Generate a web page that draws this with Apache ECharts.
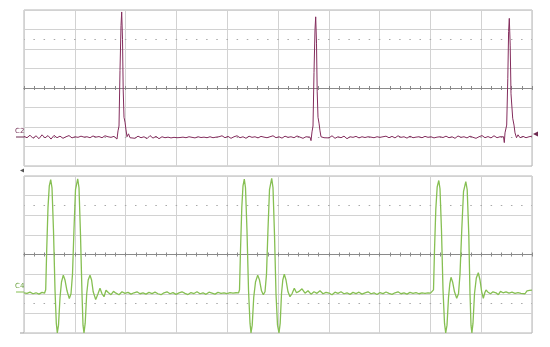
<!DOCTYPE html>
<html>
<head>
<meta charset="utf-8">
<script src="https://cdn.jsdelivr.net/npm/echarts@6/dist/echarts.min.js"></script>
<style>
	html, body { margin: 0; padding: 0; background: #fff; }
	#chart { width: 550px; height: 347px; }
</style>
</head>
<body>
<div id="chart"></div>
<script>
// x in screen divisions * 50.8 (10 divisions across), y in vertical divisions from centre
const c2Trace = [
	[0, -2.48], [3, -2.55], [6, -2.42], [9, -2.58], [12, -2.45], [15, -2.6], [18, -2.4], [21, -2.56],
	[24, -2.44], [27, -2.62], [30, -2.43], [33, -2.55], [36, -2.47], [39, -2.58], [42, -2.5], [45, -2.44],
	[48, -2.56], [51, -2.5], [54, -2.53], [57, -2.47], [60, -2.52], [63, -2.5], [66, -2.55], [69, -2.46],
	[72, -2.52], [75, -2.49], [78, -2.55], [81, -2.45], [84, -2.5], [87, -2.53], [90, -2.48],
	[92, -2.5], [93, -2.62], [94, -2.2], [95, -1.95], [96, 0.9], [97, 3.2], [97.7, 3.9], [98.5, 2.5],
	[99.2, -0.1], [100, -1.5], [101, -1.75], [102, -2.15], [103, -2.5], [104.5, -2.35], [106, -2.55],
	[108, -2.45], [111, -2.58], [114, -2.47], [117, -2.55], [120, -2.5], [123, -2.6], [126, -2.44], [129, -2.57],
	[132, -2.48], [135, -2.6], [138, -2.5], [141, -2.55], [144, -2.52], [147, -2.56], [150, -2.53], [153, -2.55],
	[156, -2.54], [159, -2.52], [162, -2.55], [165, -2.5], [168, -2.53], [171, -2.56], [174, -2.5], [177, -2.54],
	[180, -2.52], [183, -2.55], [186, -2.5], [189, -2.55], [192, -2.52], [195, -2.5], [198, -2.45], [201, -2.55],
	[204, -2.48], [207, -2.58], [210, -2.5], [213, -2.45], [216, -2.55], [219, -2.5], [222, -2.58], [225, -2.47],
	[228, -2.53], [231, -2.5], [234, -2.56], [237, -2.48], [240, -2.52], [243, -2.55], [246, -2.5], [249, -2.45],
	[252, -2.55], [255, -2.5], [258, -2.57], [261, -2.47], [264, -2.53], [267, -2.5], [270, -2.55], [273, -2.46],
	[276, -2.52], [279, -2.58], [282, -2.5],
	[286, -2.52], [287, -2.7], [288, -2.25], [289, -1.95], [290, 0.8], [291, 3.0], [291.7, 3.65], [292.5, 2.3],
	[293.2, -0.2], [294, -1.5], [295, -1.8], [296, -2.2], [297, -2.5], [298.5, -2.4], [300, -2.55],
	[302, -2.48], [305, -2.56], [308, -2.45], [311, -2.58], [314, -2.5], [317, -2.55], [320, -2.47], [323, -2.6],
	[326, -2.5], [329, -2.53], [332, -2.48], [335, -2.56], [338, -2.5], [341, -2.54], [344, -2.5], [347, -2.52],
	[350, -2.55], [353, -2.5], [356, -2.53], [359, -2.5], [362, -2.47], [365, -2.55], [368, -2.48], [371, -2.56],
	[374, -2.45], [377, -2.53], [380, -2.5], [383, -2.57], [386, -2.47], [389, -2.55], [392, -2.52], [395, -2.5],
	[398, -2.55], [401, -2.48], [404, -2.53], [407, -2.5], [410, -2.56], [413, -2.52], [416, -2.5], [419, -2.54],
	[422, -2.47], [425, -2.55], [428, -2.5], [431, -2.58], [434, -2.46], [437, -2.53], [440, -2.5], [443, -2.56],
	[446, -2.47], [449, -2.53], [452, -2.58], [455, -2.5], [458, -2.44], [461, -2.55], [464, -2.49], [467, -2.56],
	[470, -2.45], [473, -2.55], [476, -2.5], [478, -2.55],
	[479.5, -2.5], [480.3, -2.8], [481, -2.3], [482.7, -1.9], [483.8, 0.5], [484.6, 2.9], [485.3, 3.57], [486.2, 2.2],
	[487, -0.3], [488.7, -1.55], [490, -1.9], [491, -2.3], [492.5, -2.55], [494, -2.4], [496, -2.55], [499, -2.48],
	[502, -2.55], [505, -2.5], [508, -2.47],
]

const c4Trace = [
	[0, -1.95], [3, -1.98], [6, -1.92], [9, -2.0], [12, -1.95], [15, -2.02], [18, -1.93], [20.5, -1.97],
	[21.7, -1.8], [22.7, 0.2], [24, 2.4], [25.3, 3.5], [26.7, 3.82], [28, 3.4], [29.5, 1.2], [31, -1.8],
	[32.3, -3.5], [33.3, -4.0], [34.5, -3.6], [36, -2.2], [37.5, -1.4], [39.3, -1.05], [41, -1.3], [43, -1.85],
	[45.3, -2.25], [47, -2.0], [48.5, -1.0], [50, 1.3], [51.5, 3.3], [53.7, 3.85], [55, 3.4], [56.5, 1.0],
	[58, -2.0], [59, -3.6], [60, -4.0], [61.2, -3.5], [62.7, -2.0], [64.2, -1.3], [66, -1.06], [67.6, -1.3],
	[69.2, -1.9], [71.7, -2.3], [74, -2.0], [76, -1.72], [78, -2.0], [80, -2.15], [82, -1.82], [84.5, -1.95],
	[87, -2.05], [89.5, -1.88], [92, -1.97], [95, -2.05], [98, -1.9], [101, -1.98], [104, -1.93], [107, -2.02],
	[110, -1.95], [113, -1.9], [116, -2.0], [119, -1.96], [122, -2.02], [125, -1.93], [128, -1.99], [131, -1.92],
	[134, -2.0], [137, -2.05], [140, -1.95], [143, -1.9], [146, -2.0], [149, -1.94], [152, -2.03], [155, -1.96],
	[158, -1.9], [161, -1.98], [164, -2.04], [167, -1.94], [170, -1.99], [173, -1.9], [176, -2.0], [179, -1.95],
	[182, -2.03], [185, -1.92], [188, -1.97], [191, -2.02], [194, -1.93], [197, -1.98], [200, -1.95], [203, -1.99],
	[206, -1.94], [209, -1.97], [212, -1.95], [214.5, -1.96],
	[215.5, -1.8], [216.5, 0.2], [217.8, 2.4], [219, 3.5], [220.3, 3.84], [221.5, 3.4], [223, 1.2], [224.5, -1.8],
	[226, -3.5], [227, -4.0], [228.2, -3.6], [229.7, -2.2], [231.5, -1.4], [233.7, -1.05], [235.5, -1.3], [237.5, -1.85],
	[239.3, -2.05], [241, -1.9], [242.5, -1.0], [244, 1.3], [245.5, 3.3], [247.7, 3.88], [249, 3.4], [250.5, 1.0],
	[252, -2.0], [253.5, -3.6], [255, -4.0], [256.2, -3.5], [257.5, -2.0], [258.8, -1.3], [260.3, -1.0], [262, -1.3],
	[264, -1.9], [266, -2.15], [268, -2.0], [270.3, -1.72], [272.5, -1.95], [275, -1.88], [278, -1.75], [281, -1.97],
	[284, -1.85], [287, -2.02], [290, -1.9], [293, -1.98], [296, -1.85], [299, -2.0], [302, -1.93], [305, -1.97],
	[308, -2.05], [311, -1.92], [314, -1.98], [317, -1.9], [320, -2.0], [323, -1.95], [326, -2.03], [329, -1.93],
	[332, -1.99], [335, -1.92], [338, -2.02], [341, -1.96], [344, -1.9], [347, -2.0], [350, -1.95], [353, -2.04],
	[356, -1.94], [359, -1.99], [362, -1.91], [365, -1.98], [368, -2.03], [371, -1.95], [374, -1.9], [377, -2.0],
	[380, -1.96], [383, -2.02], [386, -1.93], [389, -1.98], [392, -1.94], [395, -2.0], [398, -1.96], [401, -1.98],
	[404, -1.95], [406.5, -1.97], [408.5, -1.96],
	[409.5, -1.8], [410.5, 0.2], [411.8, 2.3], [413.2, 3.45], [414.8, 3.77], [416, 3.35], [417.5, 1.2], [419, -1.8],
	[420.5, -3.5], [421.7, -4.0], [423, -3.6], [424.5, -2.2], [425.8, -1.5], [427, -1.16], [428.6, -1.4], [430.5, -1.9],
	[432.7, -2.23], [434.5, -2.0], [436, -1.0], [437.8, 1.3], [439.5, 3.2], [441.8, 3.71], [443.2, 3.3], [444.8, 1.0],
	[446, -2.0], [447, -3.6], [447.9, -4.0], [449, -3.5], [450.5, -2.0], [452.3, -1.2], [454.3, -0.93], [456, -1.3],
	[457.7, -1.9], [459.3, -2.23], [460.8, -1.95], [462, -1.81], [464, -1.92], [466.5, -2.0], [469, -1.9], [472, -1.95],
	[474.3, -2.05], [476.5, -1.88], [479, -1.95], [482, -1.9], [485, -1.97], [488, -1.92], [491, -1.98], [494, -1.94],
	[497, -1.98], [499, -2.05], [501, -2.0], [503, -1.85], [505.5, -1.83], [508, -1.82],
]

const dotRows = [2.5, -2.5]

const chart = echarts.init(document.getElementById("chart"))

const gridLine = { show: true, lineStyle: { color: "#d2d2d2", width: 1 } }
const dotted = { color: "#a8a8a8", width: 1, type: [1.5, 8.66], dashOffset: 0.75 }

// two x axes per panel, both sitting on the centre line, so the ticks cross it
const makeX = (gridIndex, position, zeroIndex, split) => ({
	type: "value",
	gridIndex: gridIndex,
	position: position,
	min: 0,
	max: 508,
	interval: 50.8,
	axisLine: { show: true, onZero: true, onZeroAxisIndex: zeroIndex, lineStyle: { color: "#8a8a8a", width: 1 } },
	axisTick: { show: true, length: 2, lineStyle: { color: "#8a8a8a" } },
	minorTick: { show: true, splitNumber: 5, length: 2, lineStyle: { color: "#8a8a8a" } },
	axisLabel: { show: false },
	splitLine: split ? gridLine : { show: false },
})

const makeY = (gridIndex, split) => ({
	type: "value",
	gridIndex: gridIndex,
	min: -4,
	max: 4,
	interval: 1,
	axisLine: { show: false },
	axisTick: { show: false },
	axisLabel: { show: false },
	splitLine: split ? gridLine : { show: false },
})

const markDots = {
	silent: true,
	symbol: "none",
	label: { show: false },
	lineStyle: dotted,
	data: dotRows.map((v) => ({ yAxis: v })),
}

let options = {
	animation: false,
	grid: [
		{ left: 24, top: 10, width: 508, height: 156, show: true, borderColor: "#b4b4b4", borderWidth: 1 },
		{ left: 24, top: 176, width: 508, height: 157, show: true, borderColor: "#b4b4b4", borderWidth: 1 },
	],
	xAxis: [makeX(0, "bottom", 0, true), makeX(0, "top", 1, false), makeX(1, "bottom", 2, true), makeX(1, "top", 3, false)],
	yAxis: [makeY(0, true), makeY(0, false), makeY(1, true), makeY(1, false)],
	series: [
		{
			name: "C2",
			type: "line",
			xAxisIndex: 0,
			yAxisIndex: 0,
			data: c2Trace,
			showSymbol: false,
			lineStyle: { color: "#832c5c", width: 1 },
			markLine: markDots,
			z: 5,
		},
		{
			name: "C4",
			type: "line",
			xAxisIndex: 2,
			yAxisIndex: 2,
			data: c4Trace,
			showSymbol: false,
			lineStyle: { color: "#86bf52", width: 1.3 },
			markLine: markDots,
			z: 5,
		},
	],
	graphic: [
		{ type: "text", left: 15, top: 128, style: { text: "C2", fill: "#7b3a5e", font: "7px 'DejaVu Sans'" } },
		{ type: "line", shape: { x1: 16, y1: 137, x2: 24, y2: 137 }, style: { stroke: "#6e2a50", lineWidth: 1 } },
		{ type: "text", left: 15, top: 283, style: { text: "C4", fill: "#6ea443", font: "7px 'DejaVu Sans'" } },
		{ type: "line", shape: { x1: 16, y1: 292, x2: 24, y2: 292 }, style: { stroke: "#86bf52", lineWidth: 1 } },
		{ type: "polygon", shape: { points: [[533, 134], [538, 131.5], [538, 136.5]] }, style: { fill: "#6e2a50" } },
		{ type: "polygon", shape: { points: [[20, 170.5], [24, 168.5], [24, 172.5]] }, style: { fill: "#555" } },
		{ type: "line", shape: { x1: 20, y1: 333, x2: 24, y2: 333 }, style: { stroke: "#999", lineWidth: 1 } },
	],
}

chart.setOption(options)
</script>
</body>
</html>
